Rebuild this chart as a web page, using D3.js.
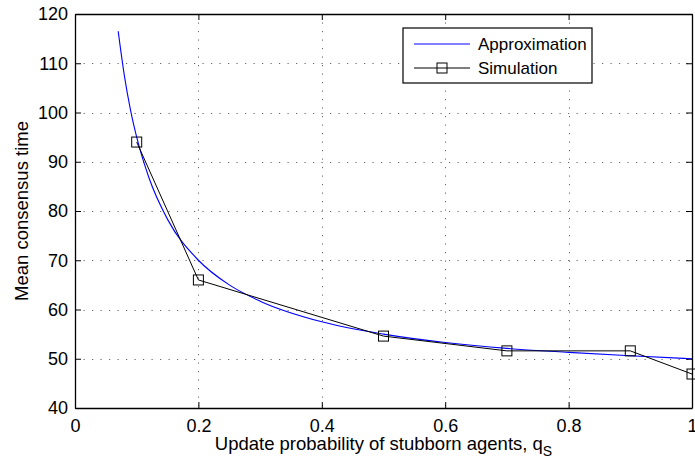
<!DOCTYPE html>
<html>
<head>
<meta charset="utf-8">
<script src="https://cdn.jsdelivr.net/npm/d3@7"></script>
<style>
  body { margin: 0; background: #fff; }
  svg { font-family: "Liberation Sans", Arial, sans-serif; }
  .tick text { font-size: 18px; fill: #000; }
  .grid line { stroke: #666; stroke-width: 1; stroke-dasharray: 1.2,7.3; }
</style>
</head>
<body>
<svg id="chart"></svg>
<script>
// chart size and plot margins
const width = 695;
const height = 461;

const margin = { top: 14, bottom: 53, left: 75, right: 3 };

// values
const approxQ = [0.07, 0.08, 0.09, 0.1, 0.12, 0.15, 0.2, 0.25, 0.3, 0.4, 0.5, 0.6, 0.7, 0.8, 0.9, 1.0];
const approxT = [116.5, 107.5, 100.5, 95, 86.7, 78.3, 70, 65, 61.7, 57.5, 55, 53.3, 52.1, 51.3, 50.6, 50];

const simQ = [0.1, 0.2, 0.5, 0.7, 0.9, 1.0];
const simT = [94, 66, 54.6, 51.6, 51.6, 46.9];

const xTicks = [0, 0.2, 0.4, 0.6, 0.8, 1];
const yTicks = [40, 50, 60, 70, 80, 90, 100, 110, 120];

const seriesNames = ['Approximation', 'Simulation'];

const svg = d3.select('#chart').attr('width', width).attr('height', height);

const plotW = width - margin.left - margin.right;
const plotH = height - margin.top - margin.bottom;

const scales = {
  x: d3.scaleLinear().domain([0, 1]).range([0, plotW]),
  y: d3.scaleLinear().domain([40, 120]).range([plotH, 0])
};

const plot = svg.append('g').attr('transform', translate(margin.left, margin.top));

// dotted grid lines
const grid = plot.append('g').attr('class', 'grid');
grid.selectAll('line.gx')
  .data(xTicks.slice(1, -1))
  .enter().append('line')
  .attr('class', 'gx')
  .attr('x1', d => Math.round(scales.x(d)) + 0.5).attr('x2', d => Math.round(scales.x(d)) + 0.5)
  .attr('y1', 0).attr('y2', plotH);
grid.selectAll('line.gy')
  .data(yTicks.slice(1, -1))
  .enter().append('line')
  .attr('class', 'gy')
  .attr('y1', d => Math.round(scales.y(d)) + 0.5).attr('y2', d => Math.round(scales.y(d)) + 0.5)
  .attr('x1', 0).attr('x2', plotW);

// axes, ticks pointing inward on all four sides
const tickLen = 6;
const xAxis = d3.axisBottom(scales.x).tickValues(xTicks).tickFormat(d3.format('')).tickSizeInner(-tickLen).tickSizeOuter(0).tickPadding(11);
const yAxis = d3.axisLeft(scales.y).tickValues(yTicks).tickSizeInner(-tickLen).tickSizeOuter(0).tickPadding(7);
const xTop = d3.axisTop(scales.x).tickValues(xTicks).tickFormat('').tickSizeInner(-tickLen).tickSizeOuter(0);
const yRight = d3.axisRight(scales.y).tickValues(yTicks).tickFormat('').tickSizeInner(-tickLen).tickSizeOuter(0);

plot.append('g').attr('transform', translate(0, plotH)).call(xAxis);
plot.append('g').call(yAxis);
plot.append('g').call(xTop);
plot.append('g').attr('transform', translate(plotW, 0)).call(yRight);

plot.selectAll('.domain').attr('stroke', '#000').attr('stroke-width', 1.3);
plot.selectAll('.tick line').attr('stroke', '#000');
plot.selectAll('.tick text').attr('font-family', 'Liberation Sans, Arial, sans-serif');

// approximation curve
const approxLine = d3.line()
  .x((d, i) => scales.x(approxQ[i]))
  .y(d => scales.y(d))
  .curve(d3.curveMonotoneX);

plot.append('path')
  .datum(approxT)
  .attr('fill', 'none')
  .attr('stroke', '#0000ff')
  .attr('stroke-width', 1.1)
  .attr('d', approxLine);

// simulation line with square markers
const simLine = d3.line()
  .x((d, i) => scales.x(simQ[i]))
  .y(d => scales.y(d));

plot.append('path')
  .datum(simT)
  .attr('fill', 'none')
  .attr('stroke', '#000')
  .attr('stroke-width', 1)
  .attr('d', simLine);

const sq = 10;
plot.append('g').selectAll('rect')
  .data(simT)
  .enter().append('rect')
  .attr('x', (d, i) => scales.x(simQ[i]) - sq / 2)
  .attr('y', d => scales.y(d) - sq / 2)
  .attr('width', sq).attr('height', sq)
  .attr('fill', 'none')
  .attr('stroke', '#000')
  .attr('stroke-width', 1);

// legend
const legend = svg.append('g').attr('transform', translate(403, 28));
legend.append('rect')
  .attr('width', 189).attr('height', 55)
  .attr('fill', '#fff').attr('stroke', '#000').attr('stroke-width', 1.2);

legend.append('line').attr('x1', 11).attr('x2', 67).attr('y1', 16).attr('y2', 16)
  .attr('stroke', '#0000ff').attr('stroke-width', 1.1);
legend.append('line').attr('x1', 11).attr('x2', 67).attr('y1', 40).attr('y2', 40)
  .attr('stroke', '#000').attr('stroke-width', 1);
legend.append('rect').attr('x', 34).attr('y', 35).attr('width', sq).attr('height', sq)
  .attr('fill', 'none').attr('stroke', '#000');

legend.selectAll('text.lg')
  .data(seriesNames)
  .enter().append('text')
  .attr('x', 75)
  .attr('y', (d, i) => 22 + i * 24)
  .attr('font-size', 17)
  .text(d => d);

// axis titles
const xTitle = svg.append('text')
  .attr('x', margin.left + plotW / 2)
  .attr('y', 450)
  .attr('text-anchor', 'middle')
  .attr('font-size', 18.5);
xTitle.append('tspan').text('Update probability of stubborn agents, q');
xTitle.append('tspan').attr('dy', 6).attr('font-size', 14).text('S');

const yGroup = svg.append('g').attr('transform', translate(27.5, margin.top + plotH / 2));
yGroup.append('text')
  .attr('transform', 'rotate(-90)')
  .attr('text-anchor', 'middle')
  .attr('font-size', 18.5)
  .text('Mean consensus time');

function translate(x, y) {
  return 'translate(' + String(x) + ',' + String(y) + ')';
}
</script>
</body>
</html>
